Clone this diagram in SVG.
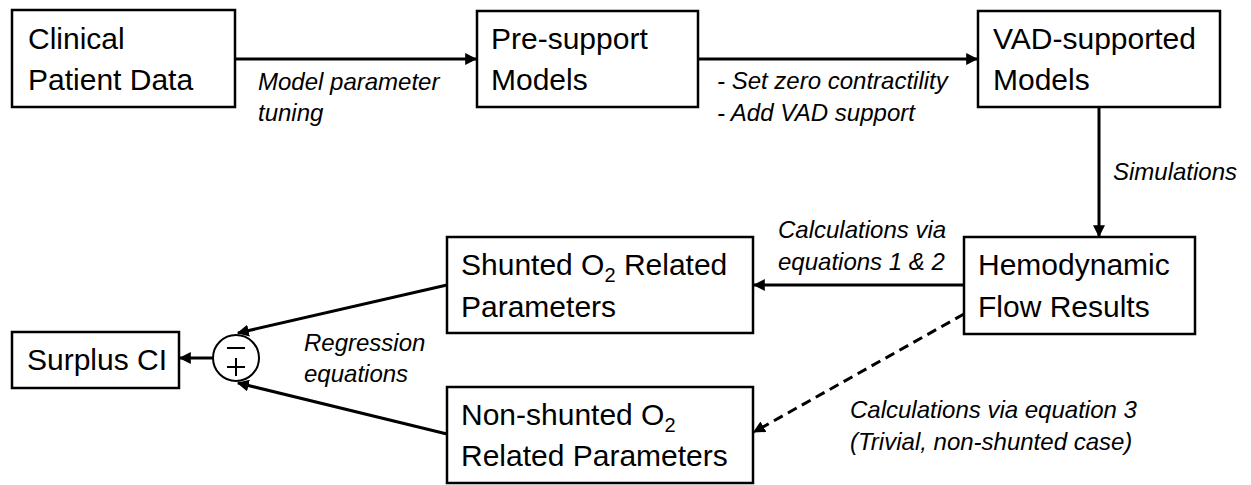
<svg xmlns="http://www.w3.org/2000/svg" width="1251" height="485" viewBox="0 0 1251 485">
<style>
.box{fill:#fff;stroke:#000;stroke-width:2.5}
.t{font-family:"Liberation Sans",Arial,sans-serif;font-size:30px;fill:#000}
.sub{font-size:20px}
.lb{font-family:"Liberation Sans",Arial,sans-serif;font-size:24px;font-style:italic;fill:#000}
.c{fill:none;stroke:#000;stroke-width:3}
.d{stroke-dasharray:10 6}
</style>
<defs>
<marker id="ah" viewBox="0 0 10 10" refX="9" refY="5" markerWidth="4" markerHeight="4" orient="auto" markerUnits="strokeWidth">
<path d="M0,0 L10,5 L0,10 z" fill="#000"/>
</marker>
</defs>
<rect width="1251" height="485" fill="#fff"/>
<g id="clinical">
<rect class="box" x="12" y="10" width="223" height="97"/>
<text class="t" x="28" y="49">Clinical</text>
<text class="t" x="28" y="90">Patient Data</text>
</g>
<g id="presupport">
<rect class="box" x="477" y="11" width="221" height="96"/>
<text class="t" x="491" y="49">Pre-support</text>
<text class="t" x="491" y="90">Models</text>
</g>
<g id="vad">
<rect class="box" x="978" y="11" width="242" height="96"/>
<text class="t" x="993" y="49">VAD-supported</text>
<text class="t" x="993" y="90">Models</text>
</g>
<g id="hemo">
<rect class="box" x="964" y="237" width="231" height="97"/>
<text class="t" x="978" y="275">Hemodynamic</text>
<text class="t" x="978" y="317">Flow Results</text>
</g>
<g id="shunted">
<rect class="box" x="447" y="237" width="306" height="96"/>
<text class="t" x="461" y="275">Shunted O<tspan class="sub" dy="7">2</tspan><tspan dy="-7"> Related</tspan></text>
<text class="t" x="461" y="317">Parameters</text>
</g>
<g id="nonshunted">
<rect class="box" x="447" y="387" width="306" height="96"/>
<text class="t" x="461" y="425">Non-shunted O<tspan class="sub" dy="7">2</tspan></text>
<text class="t" x="461" y="466">Related Parameters</text>
</g>
<g id="surplus">
<rect class="box" x="12" y="332" width="167" height="56"/>
<text class="t" x="27" y="370">Surplus CI</text>
</g>
<g id="sum">
<circle cx="236" cy="358" r="23" fill="#fff" stroke="#000" stroke-width="2"/>
<line x1="227" y1="348" x2="245" y2="348" stroke="#000" stroke-width="2"/>
<line x1="227" y1="367" x2="245" y2="367" stroke="#000" stroke-width="2"/>
<line x1="236" y1="358" x2="236" y2="376" stroke="#000" stroke-width="2"/>
</g>
<g id="connectors">
<line class="c" x1="235" y1="59" x2="476" y2="59" marker-end="url(#ah)"/>
<line class="c" x1="698" y1="59" x2="977" y2="59" marker-end="url(#ah)"/>
<line class="c" x1="1099" y1="107" x2="1099" y2="236" marker-end="url(#ah)"/>
<line class="c" x1="964" y1="285" x2="754" y2="285" marker-end="url(#ah)"/>
<line class="c d" x1="964" y1="314" x2="754" y2="432" marker-end="url(#ah)"/>
<line class="c" x1="447" y1="285" x2="238" y2="333" marker-end="url(#ah)"/>
<line class="c" x1="447" y1="434" x2="238" y2="383" marker-end="url(#ah)"/>
<line class="c" x1="213" y1="358" x2="180" y2="358" marker-end="url(#ah)"/>
</g>
<g id="labels">
<text class="lb" x="258" y="90">Model parameter</text>
<text class="lb" x="258" y="121">tuning</text>
<text class="lb" x="717" y="89">- Set zero contractility</text>
<text class="lb" x="717" y="121">- Add VAD support</text>
<text class="lb" x="1113" y="180">Simulations</text>
<text class="lb" x="778" y="238">Calculations via</text>
<text class="lb" x="778" y="270">equations 1 &amp; 2</text>
<text class="lb" x="304" y="351">Regression</text>
<text class="lb" x="304" y="382">equations</text>
<text class="lb" x="850" y="418">Calculations via equation 3</text>
<text class="lb" x="850" y="450">(Trivial, non-shunted case)</text>
</g>
</svg>
